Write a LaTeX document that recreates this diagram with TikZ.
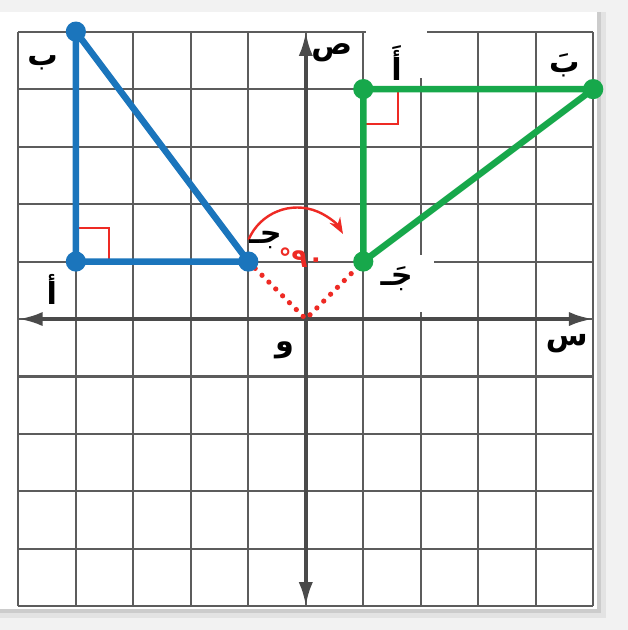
\documentclass[tikz,border=0pt]{standalone}
\usepackage{fontspec}
\usetikzlibrary{arrows.meta,positioning}
\newfontfamily\arabicfont[Script=Arabic]{DejaVu Sans}
\TeXXeTstate=1
\definecolor{tb}{HTML}{1B75BC}
\definecolor{tg}{HTML}{17A84B}
\definecolor{rd}{HTML}{EE2A24}
\definecolor{gl}{HTML}{5C5C5C}
\definecolor{ax}{HTML}{4A4A4A}
\tikzset{
  gridline/.style={gl, line width=1pt},
  axis/.style={
    {Latex[length=12pt,width=7pt]}-{Latex[length=12pt,width=7pt]},
    ax, line width=2pt
  },
  vdot/.style={circle, inner sep=0pt, minimum size=10pt},
  bdot/.style={vdot, fill=tb},
  gdot/.style={vdot, fill=tg},
  bline/.style={tb, line width=3.2pt, line join=round},
  gline/.style={tg, line width=3.2pt, line join=round},
  rmark/.style={rd, line width=1pt},
  rdots/.style={rd, line width=2.6pt, dash pattern=on 0pt off 4.8pt, line cap=round},
  rarc/.style={-{Stealth[length=8pt,width=6pt]}, rd, line width=1.2pt},
  lbl/.style={font=\arabicfont\bfseries\fontsize{15}{17}\selectfont, inner sep=1pt},
  deg/.style={lbl, text=rd, font=\arabicfont\bfseries\fontsize{13}{15}\selectfont}
}

\begin{document}
\begin{tikzpicture}

% page, card and shadow
\useasboundingbox (-5.32,-5.41) rectangle (5.6,5.55);
\fill[gray!10] (-5.32,-5.41) rectangle (5.6,5.55);
\fill[gray!22] (-5.32,-5.2) rectangle (5.22,5.34);
\fill[gray!40] (-5.32,-5.12) rectangle (5.14,5.34);
\fill[white] (-5.32,-5.04) rectangle (5.07,5.34);

% grid
\draw[gridline] (-5,-5) grid (5,5);
\fill[white] (1.05,4.2) rectangle (2.1,5.1);
\fill[white] (1.15,0.12) rectangle (2.23,1.11);

% axes
\coordinate (xl) at (-5,0);
\coordinate (xr) at (5,0);
\coordinate (yb) at (0,-5);
\coordinate (yt) at (0,5);
\coordinate (O) at (0,0);
\draw[axis] (xl) -- (xr);
\draw[axis] (yb) -- (yt);

% triangle and its image
\coordinate (A) at (-4,1);
\coordinate (B) at (-4,5);
\coordinate (C) at (-1,1);
\coordinate (A2) at (1,4);
\coordinate (B2) at (5,4);
\coordinate (C2) at (1,1);

\draw[rdots] (C) -- (O) -- (C2);
\coordinate (arcc) at (-0.15,1.02);
\draw[rarc] ([shift={(157:0.92)}]arcc) arc (157:30:0.92);

\draw[rmark] ([yshift=0.58cm]A) -| ([xshift=0.58cm]A);
\draw[rmark] ([yshift=-0.6cm]A2) -| ([xshift=0.6cm]A2);

\draw[bline] (A) -- (B) -- (C) -- cycle;
\draw[gline] (A2) -- (B2) -- (C2) -- cycle;

\node[bdot] (Adot) at (A) {};
\node[bdot] (Bdot) at (B) {};
\node[bdot] (Cdot) at (C) {};
\node[gdot] (A2dot) at (A2) {};
\node[gdot] (B2dot) at (B2) {};
\node[gdot] (C2dot) at (C2) {};

% labels
\node[lbl] (lB) at (-4.58,4.45) {\beginR ب\endR};
\node[lbl] (lA) at (-4.42,0.52) {\beginR أ\endR};
\node[lbl] (lC) at (-0.7,1.38) {\beginR جـ\endR};
\node[lbl] (lA2) at (1.58,4.45) {\beginR أَ\endR};
\node[lbl] (lB2) at (4.5,4.42) {\beginR بَ\endR};
\node[lbl] (lC2) at (1.58,0.7) {\beginR جَـ\endR};
\node[lbl] (lO) at (-0.37,-0.54) {\beginR و\endR};
\node[lbl] (lx) at (4.54,-0.42) {\beginR س\endR};
\node[lbl] (ly) at (0.45,4.64) {\beginR ص\endR};
\node[deg] (lang) at (-0.08,1.06) {٩٠°};

\end{tikzpicture}
\end{document}
